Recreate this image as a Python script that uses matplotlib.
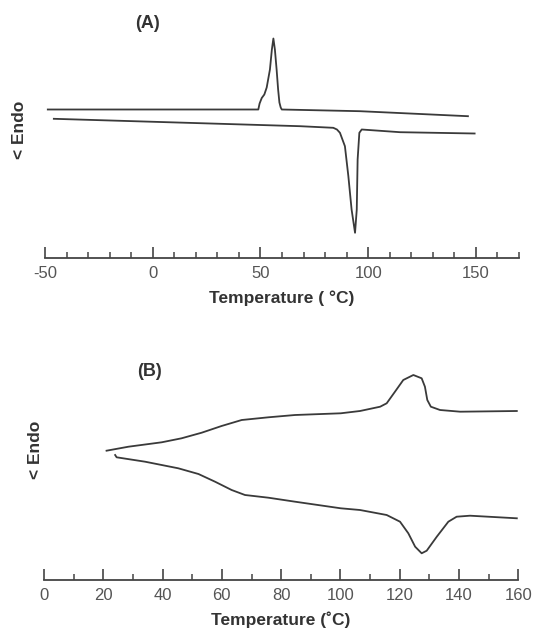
import matplotlib
matplotlib.use("Agg")
import matplotlib.pyplot as plt
from matplotlib.ticker import MultipleLocator

plt.rcParams['font.family'] = ['Liberation Sans', 'DejaVu Sans']

# ---------------- Panel A data (temperature in °C, signal in arbitrary units) -------------
a_upper_T = [-48.7, 40.5, 49.0, 49.6, 50.6, 51.8, 52.9, 54.4, 55.3, 56.0, 56.7, 57.5, 58.2,
             58.8, 59.4, 59.9, 96.2, 146.3]
a_upper_S = [148, 148, 148, 154, 159.5, 163, 170, 188, 208, 219, 208, 188, 168,
             155, 150, 148, 146.3, 141.3]
a_lower_T = [-45.9, 68.4, 83.8, 85.5, 86.9, 89.2, 90.8, 92.3, 93.9, 94.7, 95.1, 95.9, 97.0,
             114.8, 149.4]
a_lower_S = [138.7, 131.3, 129.7, 128, 124.7, 111.3, 81.3, 48, 24.7, 48, 98, 124.7, 128,
             125.3, 124]

# ---------------- Panel B data ----------------
b_upper_T = [21.1, 28.5, 39.7, 46.4, 53.2, 59.9, 66.7, 75.7, 84.7, 100.1, 106.6, 113.4, 115.6,
             118.4, 121.2, 124.6, 127.4, 128.5, 129.3, 130.5, 133.6, 140.4, 159.5]
b_upper_S = [129.3, 133.3, 137.7, 141.7, 147.3, 154, 160, 162.7, 165, 166.7, 169, 173.3, 176.7,
             188.3, 200, 205, 201.7, 193.3, 180, 173.3, 170, 168.3, 169]
b_lower_T = [24.0, 24.5, 34.1, 45.3, 52.1, 57.7, 63.3, 67.8, 75.7, 84.7, 100.1, 106.6, 115.6,
             120.1, 122.9, 125.2, 127.4, 129.1, 132.5, 136.4, 139.2, 143.7, 159.5]
b_lower_S = [125, 122.7, 118.3, 111.7, 106, 98.3, 90, 85, 82.3, 78.3, 71.7, 70, 65,
             58.3, 46.7, 33.3, 26.7, 29.3, 43.3, 58.3, 63.3, 64.3, 61.7]

a_ticks = [-50, 0, 50, 100, 150]
b_ticks = [0, 20, 40, 60, 80, 100, 120, 140, 160]

W, H = 535, 628
fig = plt.figure(figsize=(W / 100, H / 100), dpi=100)
fig.patch.set_facecolor('white')

line_col = '#3a3a3a'
text_col = '#333333'
tick_col = '#555555'


def style_axis(ax, major, minor):
    for s in ['top', 'right', 'left']:
        ax.spines[s].set_visible(False)
    ax.spines['bottom'].set_color('#444444')
    ax.spines['bottom'].set_linewidth(1.3)
    ax.set_yticks([])
    ax.xaxis.set_major_locator(MultipleLocator(major))
    ax.xaxis.set_minor_locator(MultipleLocator(minor))
    ax.tick_params(axis='x', which='major', direction='in', length=8, width=1.2,
                   colors='#444444', labelcolor=tick_col, labelsize=12, pad=6)
    ax.tick_params(axis='x', which='minor', direction='in', length=4, width=1.1,
                   colors='#444444')


# Panel A: spine at pixel y=257.5, axis from x px 45 to 519
axA = fig.add_axes([45 / W, 1 - 257.5 / H, (519 - 45) / W, 237.5 / H])
axA.plot(a_upper_T, a_upper_S, color=line_col, lw=1.3)
axA.plot(a_lower_T, a_lower_S, color=line_col, lw=1.3)
axA.set_xlim(-50, 170)
axA.set_ylim(0, 237.5)
style_axis(axA, 50, 10)
axA.set_xticks(a_ticks)
axA.set_xticklabels([str(t) for t in a_ticks])
axA.set_xlabel('Temperature ( °C)', fontsize=12.5, fontweight='bold', color=text_col, labelpad=7)
fig.text(20 / W, 1 - 130 / H, '< Endo', rotation=90, fontsize=12.5, fontweight='bold',
         color=text_col, ha='center', va='center')
fig.text(148 / W, 1 - 24 / H, '(A)', fontsize=13, fontweight='bold', color=text_col,
         ha='center', va='center')

# Panel B: spine at pixel y=580, axis from x px 44 to 518.3
axB = fig.add_axes([44 / W, 1 - 580 / H, (518.3 - 44) / W, 240 / H])
axB.plot(b_upper_T, b_upper_S, color=line_col, lw=1.3)
axB.plot(b_lower_T, b_lower_S, color=line_col, lw=1.3)
axB.set_xlim(0, 160)
axB.set_ylim(0, 240)
style_axis(axB, 20, 10)
axB.set_xticks(b_ticks)
axB.set_xticklabels([str(t) for t in b_ticks])
axB.set_xlabel('Temperature (˚C)', fontsize=12.5, fontweight='bold', color=text_col, labelpad=6)
fig.text(36 / W, 1 - 450 / H, '< Endo', rotation=90, fontsize=12.5, fontweight='bold',
         color=text_col, ha='center', va='center')
fig.text(150 / W, 1 - 371 / H, '(B)', fontsize=13, fontweight='bold', color=text_col,
         ha='center', va='center')

fig.savefig('out.png', dpi=100, facecolor='white')
